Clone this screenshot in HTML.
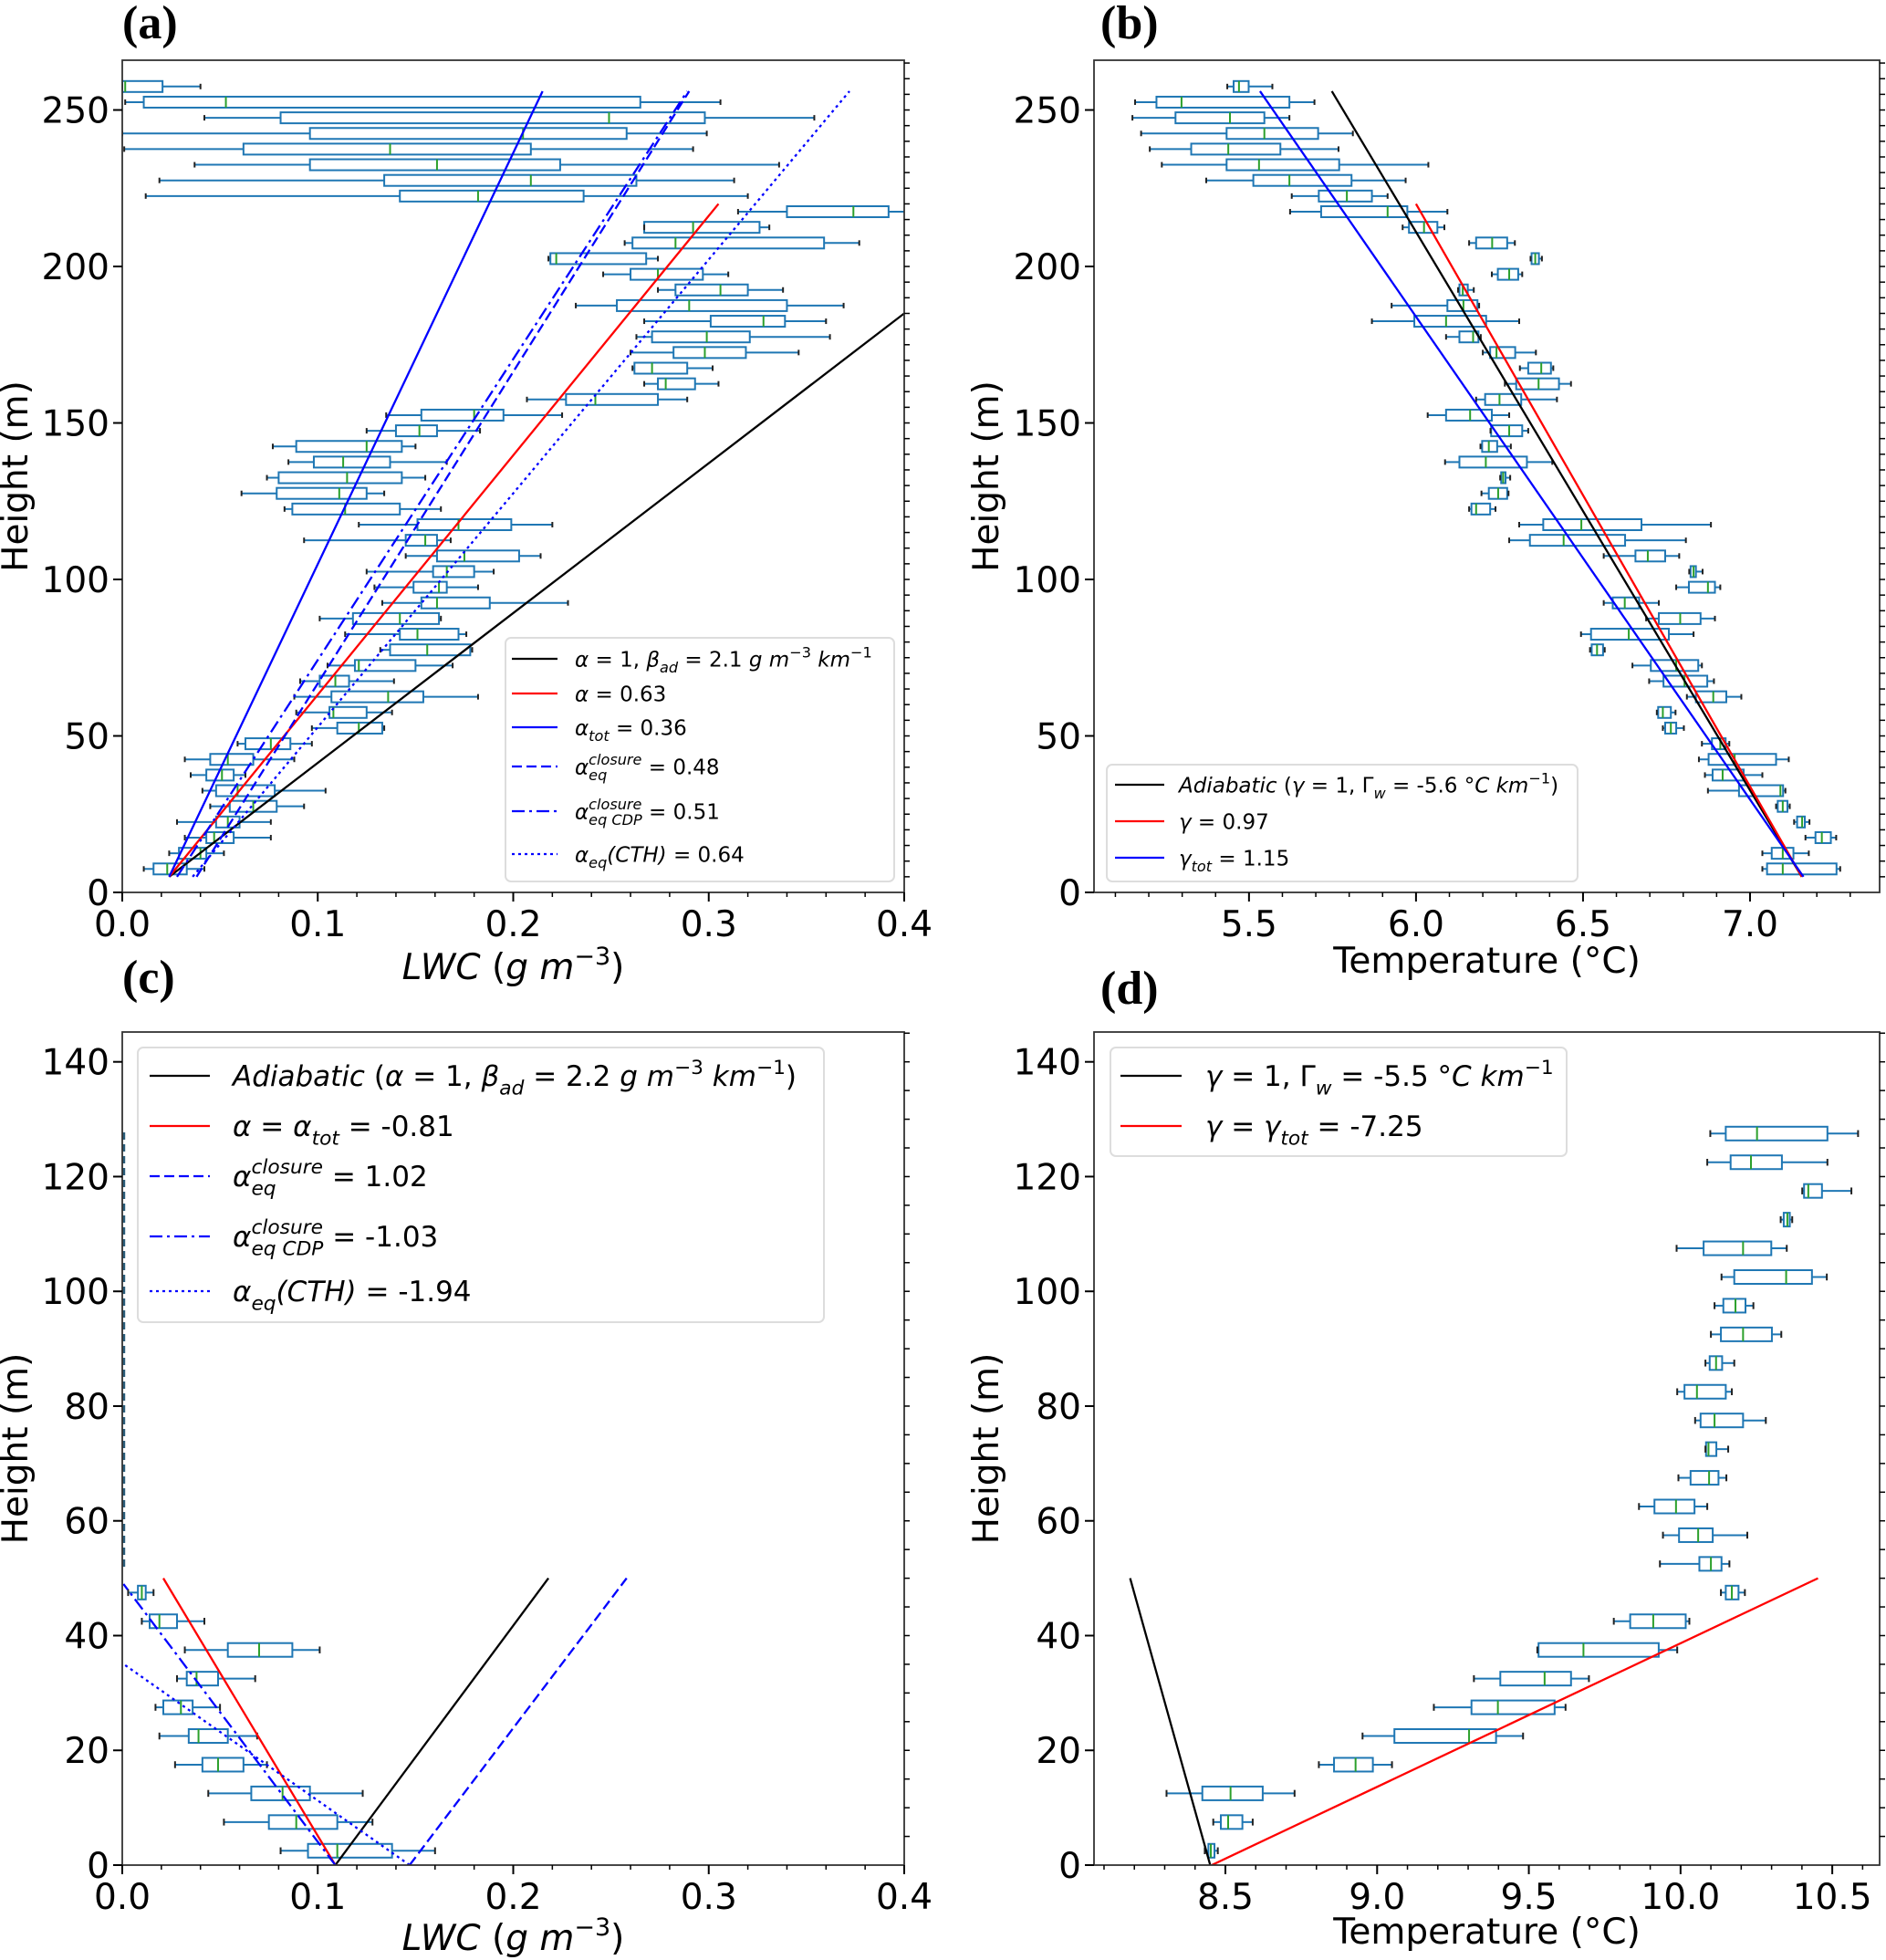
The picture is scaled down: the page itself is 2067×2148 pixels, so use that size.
<!DOCTYPE html>
<html><head><meta charset="utf-8"><style>
html,body{margin:0;padding:0;background:#fff;}
svg{display:block;font-family:"DejaVu Sans","Liberation Sans",sans-serif;}
text{white-space:pre;}
</style></head><body>
<svg id="fig" width="2067" height="2148" viewBox="0 0 2067 2148" xmlns="http://www.w3.org/2000/svg" xml:space="preserve"></svg>
<script>
// ---------- DATA ----------
const aHeights=[257.5,252.5,247.5,242.5,237.5,232.5,227.5,222.5,217.5,212.5,207.5,202.5,197.5,192.5,187.5,182.5,177.5,172.5,167.5,162.5,157.5,152.5,147.5,142.5,137.5,132.5,127.5,122.5,117.5,112.5,107.5,102.5,97.5,92.5,87.5,82.5,77.5,72.5,67.5,62.5,57.5,52.5,47.5,42.5,37.5,32.5,27.5,22.5,17.5,12.5,7.5];
const aStats=[[0,0,0.0015,0.0206,0.040],[0.0015,0.011,0.053,0.265,0.306],[0.042,0.081,0.249,0.298,0.354],[0,0.096,0.205,0.258,0.299],[0.001,0.062,0.137,0.209,0.292],[0.037,0.096,0.161,0.224,0.336],[0.019,0.134,0.209,0.263,0.313],[0.012,0.142,0.182,0.236,0.320],[0.315,0.340,0.374,0.392,0.403],[0.267,0.267,0.292,0.326,0.331],[0.257,0.261,0.283,0.359,0.377],[0.218,0.219,0.222,0.268,0.274],[0.246,0.260,0.274,0.297,0.310],[0.274,0.283,0.306,0.320,0.338],[0.232,0.253,0.290,0.340,0.369],[0.267,0.301,0.328,0.339,0.360],[0.263,0.271,0.299,0.321,0.362],[0.260,0.282,0.298,0.319,0.346],[0.261,0.262,0.271,0.289,0.302],[0.267,0.274,0.278,0.293,0.305],[0.207,0.227,0.242,0.274,0.289],[0.135,0.153,0.180,0.195,0.225],[0.125,0.140,0.152,0.161,0.183],[0.077,0.089,0.125,0.143,0.150],[0.085,0.098,0.113,0.137,0.166],[0.074,0.080,0.115,0.143,0.155],[0.061,0.079,0.111,0.125,0.134],[0.083,0.087,0.114,0.142,0.163],[0.121,0.151,0.172,0.199,0.220],[0.093,0.145,0.155,0.161,0.168],[0.145,0.161,0.175,0.203,0.214],[0.125,0.159,0.166,0.180,0.190],[0.129,0.149,0.162,0.166,0.182],[0.133,0.153,0.161,0.188,0.228],[0.101,0.118,0.142,0.162,0.163],[0.114,0.142,0.151,0.172,0.176],[0.132,0.137,0.156,0.178,0.179],[0.105,0.119,0.121,0.150,0.169],[0.091,0.101,0.109,0.116,0.139],[0.088,0.107,0.136,0.154,0.182],[0.089,0.106,0.108,0.125,0.138],[0.097,0.110,0.121,0.133,0.134],[0.059,0.063,0.076,0.086,0.097],[0.032,0.045,0.054,0.067,0.088],[0.035,0.043,0.051,0.057,0.063],[0.041,0.048,0.059,0.078,0.104],[0.045,0.055,0.067,0.079,0.093],[0.028,0.048,0.054,0.060,0.076],[0.032,0.043,0.047,0.057,0.076],[0.024,0.029,0.040,0.043,0.052],[0.011,0.016,0.023,0.033,0.042]];
const bStats=[[5.435,5.454,5.470,5.499,5.570],[5.159,5.223,5.298,5.621,5.696],[5.151,5.280,5.443,5.546,5.621],[5.177,5.433,5.546,5.707,5.811],[5.203,5.327,5.438,5.594,5.768],[5.239,5.433,5.530,5.770,6.037],[5.372,5.513,5.621,5.807,5.969],[5.628,5.709,5.793,5.868,5.915],[5.623,5.716,5.915,5.974,6.094],[5.960,5.979,6.024,6.064,6.085],[6.159,6.180,6.228,6.273,6.296],[6.343,6.346,6.357,6.368,6.377],[6.227,6.245,6.279,6.306,6.318],[6.126,6.130,6.140,6.155,6.173],[5.927,6.094,6.142,6.184,6.189],[5.868,5.995,6.090,6.210,6.309],[6.090,6.130,6.171,6.187,6.194],[6.200,6.222,6.241,6.297,6.359],[6.311,6.336,6.375,6.404,6.411],[6.266,6.300,6.367,6.428,6.464],[6.180,6.207,6.250,6.315,6.422],[6.035,6.090,6.162,6.227,6.279],[6.223,6.225,6.279,6.318,6.336],[6.193,6.198,6.218,6.243,6.284],[6.087,6.130,6.209,6.332,6.408],[6.252,6.255,6.261,6.268,6.282],[6.196,6.218,6.246,6.273,6.277],[6.159,6.166,6.180,6.222,6.238],[6.309,6.381,6.495,6.675,6.883],[6.279,6.341,6.442,6.626,6.808],[6.562,6.657,6.694,6.746,6.788],[6.818,6.822,6.831,6.838,6.858],[6.779,6.817,6.874,6.895,6.911],[6.562,6.589,6.625,6.668,6.727],[6.689,6.727,6.791,6.852,6.895],[6.494,6.524,6.637,6.757,6.831],[6.521,6.526,6.542,6.560,6.565],[6.648,6.703,6.779,6.845,6.856],[6.698,6.741,6.804,6.872,6.892],[6.811,6.838,6.890,6.929,6.974],[6.721,6.725,6.739,6.763,6.777],[6.739,6.746,6.763,6.779,6.802],[6.856,6.886,6.911,6.927,6.938],[6.847,6.876,6.954,7.078,7.116],[6.865,6.888,6.918,6.981,7.037],[6.874,6.967,7.091,7.099,7.106],[7.078,7.083,7.098,7.112,7.119],[7.132,7.141,7.156,7.164,7.178],[7.166,7.196,7.215,7.242,7.258],[7.037,7.065,7.098,7.130,7.176],[7.037,7.051,7.098,7.259,7.270]];
const cHeights=[47.5,42.5,37.5,32.5,27.5,22.5,17.5,12.5,7.5,2.5];
const cStats=[[0.003,0.008,0.010,0.012,0.016],[0.010,0.014,0.019,0.028,0.042],[0.032,0.054,0.070,0.087,0.101],[0.028,0.033,0.038,0.049,0.068],[0.017,0.021,0.030,0.036,0.050],[0.019,0.034,0.039,0.054,0.069],[0.027,0.041,0.049,0.062,0.074],[0.044,0.066,0.082,0.096,0.123],[0.052,0.075,0.089,0.110,0.128],[0.081,0.095,0.110,0.138,0.160]];
const dHeights=[127.5,122.5,117.5,112.5,107.5,102.5,97.5,92.5,87.5,82.5,77.5,72.5,67.5,62.5,57.5,52.5,47.5,42.5,37.5,32.5,27.5,22.5,17.5,12.5,7.5,2.5];
const dStats=[[10.098,10.149,10.252,10.484,10.585],[10.088,10.165,10.232,10.334,10.484],[10.401,10.407,10.421,10.466,10.563],[10.330,10.340,10.352,10.360,10.368],[9.987,10.076,10.206,10.299,10.350],[10.135,10.177,10.348,10.433,10.482],[10.112,10.141,10.181,10.214,10.240],[10.100,10.133,10.206,10.301,10.332],[10.082,10.096,10.117,10.137,10.177],[9.989,10.013,10.054,10.149,10.169],[10.048,10.066,10.112,10.206,10.281],[10.082,10.084,10.092,10.118,10.157],[9.993,10.033,10.094,10.125,10.151],[9.863,9.914,9.985,10.046,10.088],[9.942,9.995,10.058,10.106,10.220],[9.932,10.062,10.100,10.135,10.161],[10.133,10.149,10.169,10.191,10.212],[9.780,9.834,9.910,10.017,10.029],[9.528,9.532,9.680,9.928,9.989],[9.319,9.406,9.552,9.639,9.698],[9.187,9.311,9.398,9.585,9.621],[8.952,9.057,9.303,9.392,9.481],[8.808,8.858,8.929,8.986,9.049],[8.306,8.424,8.517,8.623,8.728],[8.460,8.485,8.509,8.556,8.590],[8.432,8.444,8.452,8.464,8.475]];
const aLines=[[0.024,5,0.4,185],[0.024,5,0.305,220],[0.024,5,0.215,256],[0.038,5,0.290,256],[0.028,5,0.289,256],[0.036,5,0.372,256]];
const bLines=[[7.155,5,5.748,256],[7.155,5,6.0,220],[7.16,5,5.533,256]];
const cLines=[[0.109,0,0.218,50],[0.109,0,0.021,50],[0.147,0,0.258,50],[0.109,0,0.0006,49],[0.147,0,0.0,35.2]];
const dLines=[[8.45,0,8.186,50],[8.455,0,10.453,50]];
const aXTicks=["0.0","0.1","0.2","0.3","0.4"], aXVals=[0,0.1,0.2,0.3,0.4];
const abYVals=[0,50,100,150,200,250];
const bXTicks=["5.5","6.0","6.5","7.0"], bXVals=[5.5,6.0,6.5,7.0];
const cdYVals=[0,20,40,60,80,100,120,140];
const dXTicks=["8.5","9.0","9.5","10.0","10.5"], dXVals=[8.5,9.0,9.5,10.0,10.5];

// ---------- DRAW ----------
const NS="http://www.w3.org/2000/svg";
const svg=document.getElementById('fig');
function mk(tag,attrs,parent){const e=document.createElementNS(NS,tag);for(const k in attrs)e.setAttribute(k,attrs[k]);(parent||svg).appendChild(e);return e;}
const styles=[{s:'#000',d:''},{s:'#ff0000',d:''},{s:'#0000ff',d:''},{s:'#0000ff',d:'11,5'},{s:'#0000ff',d:'14,5,3,5'},{s:'#0000ff',d:'3,4'}];

function rich(parent,x,y,fs,segs){
  let cx=x;
  const put=(t,xx,yy,size,ital)=>{const e=mk('text',{x:xx,y:yy,'font-size':size,'font-style':ital?'italic':'normal',fill:'#000'},parent);e.textContent=t;return e.getComputedTextLength();};
  segs.forEach(([t,k])=>{
    const s=fs*0.7;
    if(k==='n') cx+=put(t,cx,y,fs,false);
    else if(k==='i') cx+=put(t,cx,y,fs,true);
    else if(k==='sub') cx+=put(t,cx,y+fs*0.3,s,true);
    else if(k==='sup') cx+=put(t,cx,y-fs*0.42,s,false);
    else if(k==='ss'){const [a,b]=t.split('|');const w1=put(a,cx,y+fs*0.3,s,true);const w2=put(b,cx,y-fs*0.45,s,true);cx+=Math.max(w1,w2);}
  });
}

function panel(id,cfg){
  const g=mk('g',{});
  
  
  const X=v=>cfg.px0+(v-cfg.xmin)/(cfg.xmax-cfg.xmin)*(cfg.px1-cfg.px0);
  const Y=v=>cfg.py0-(v-cfg.ymin)/(cfg.ymax-cfg.ymin)*(cfg.py0-cfg.py1);
  const cp=mk('clipPath',{id:'clip-'+id},g);
  mk('rect',{x:cfg.px0,y:cfg.py1,width:cfg.px1-cfg.px0,height:cfg.py0-cfg.py1},cp);
  const plot=mk('g',{'clip-path':'url(#clip-'+id+')'},g);
  
  
  cfg.stats.forEach((s,i)=>{
    const h=cfg.heights[i], yc=Y(h), hh=cfg.bh/2;
    const bg=mk('g',{},plot);
    
    
    mk('line',{x1:X(s[0]),x2:X(s[1]),y1:yc,y2:yc,stroke:'#1f77b4','stroke-width':2},bg);
    mk('line',{x1:X(s[3]),x2:X(s[4]),y1:yc,y2:yc,stroke:'#1f77b4','stroke-width':2},bg);
    mk('rect',{x:X(s[1]),y:yc-hh,width:Math.max(1,X(s[3])-X(s[1])),height:cfg.bh,fill:'none',stroke:'#1f77b4','stroke-width':2},bg);
    mk('line',{x1:X(s[2]),x2:X(s[2]),y1:yc-hh,y2:yc+hh,stroke:'#2ca02c','stroke-width':2},bg);
    mk('line',{x1:X(s[0]),x2:X(s[0]),y1:yc-hh/2,y2:yc+hh/2,stroke:'#222','stroke-width':2},bg);
    mk('line',{x1:X(s[4]),x2:X(s[4]),y1:yc-hh/2,y2:yc+hh/2,stroke:'#222','stroke-width':2},bg);
  });
  if(cfg.extra) cfg.extra(plot,X,Y);
  cfg.lines.forEach((l,i)=>{
    const st=styles[cfg.lineStyles[i]];
    const ln=mk('line',{x1:X(l[0]),y1:Y(l[1]),x2:X(l[2]),y2:Y(l[3]),stroke:st.s,'stroke-width':2.3,'stroke-dasharray':st.d},plot);
    
    
  });
  const fr=mk('rect',{x:cfg.px0,y:cfg.py1,width:cfg.px1-cfg.px0,height:cfg.py0-cfg.py1,fill:'none',stroke:'#333','stroke-width':1.8},g);
  
  
  cfg.xVals.forEach((v,i)=>{
    mk('line',{x1:X(v),x2:X(v),y1:cfg.py0,y2:cfg.py0+10,stroke:'#000','stroke-width':2},g);
    const t=mk('text',{x:X(v),y:cfg.py0+48,'font-size':39,'text-anchor':'middle',fill:'#000'},g);
    t.textContent=cfg.xTicks[i];
    
    
  });
  for(let v=cfg.xMinorStart;v<=cfg.xmax+1e-9;v+=cfg.xMinor){
    if(v<cfg.xmin) continue;
    mk('line',{x1:X(v),x2:X(v),y1:cfg.py0,y2:cfg.py0+5,stroke:'#000','stroke-width':1.5},g);
  }
  cfg.yVals.forEach(v=>{
    mk('line',{x1:cfg.px0-10,x2:cfg.px0,y1:Y(v),y2:Y(v),stroke:'#000','stroke-width':2},g);
    const t=mk('text',{x:cfg.px0-14,y:Y(v)+14,'font-size':39,'text-anchor':'end',fill:'#000'},g);
    t.textContent=String(v);
    
    
  });
  for(let v=cfg.ymin+cfg.yMinor;v<=cfg.ymax;v+=cfg.yMinor){
    mk('line',{x1:cfg.px1,x2:cfg.px1+6,y1:Y(v),y2:Y(v),stroke:'#000','stroke-width':1.5},g);
  }
  const yl=mk('text',{x:0,y:0,'font-size':39,'text-anchor':'middle',transform:`translate(${cfg.ylx},${(cfg.py0+cfg.py1)/2}) rotate(-90)`},g);
  yl.textContent='Height (m)';
  
  
  const xl=mk('text',{x:(cfg.px0+cfg.px1)/2,y:cfg.xly,'font-size':39,'text-anchor':'middle'},g);
  xl.innerHTML=cfg.xlabel;
  
  
  const pl=mk('text',{x:cfg.labx,y:cfg.laby,'font-size':52,'font-weight':'bold','font-family':'Liberation Serif, serif'},g);
  pl.textContent=cfg.label;
  
  
  const L=cfg.legend;
  const lg=mk('g',{},g);
  
  
  mk('rect',{x:L.x,y:L.y,width:L.w,height:L.h,rx:6,fill:'#fff','fill-opacity':0.85,stroke:'#ddd','stroke-width':2},lg);
  L.items.forEach((it,i)=>{
    const st=styles[it[0]];
    const ent=mk('g',{},lg);
    
    
    mk('line',{x1:L.lx0,x2:L.lx1,y1:L.ys[i],y2:L.ys[i],stroke:st.s,'stroke-width':2.3,'stroke-dasharray':st.d},ent);
    rich(ent,L.tx,L.ys[i]+L.fs*0.36,L.fs,it[1]);
  });
}
const lwcLabel=`<tspan font-style="italic">LWC</tspan> (<tspan font-style="italic">g m</tspan><tspan font-size="27" dy="-16">−3</tspan><tspan dy="16">)</tspan>`;

panel('a',{px0:134,px1:991,py0:978,py1:66,xmin:0,xmax:0.4,ymin:0,ymax:265.9,heights:aHeights,stats:aStats,bh:12,
  lines:aLines,lineStyles:[0,1,2,3,4,5],xVals:aXVals,xTicks:aXTicks,xMinor:0.02,xMinorStart:0,yVals:abYVals,yMinor:5,
  ylx:30,xly:1073,xlabel:lwcLabel,label:'(a)',labx:134,laby:42,
  legend:{x:554,y:699,w:426,h:267,lx0:561,lx1:611,tx:630,fs:23,ys:[722,760,797,840,889,936],items:[
   [0,[['α','i'],[' = 1, ','n'],['β','i'],['ad','sub'],[' = 2.1 ','n'],['g m','i'],['−3','sup'],[' km','i'],['−1','sup']]],
   [1,[['α','i'],[' = 0.63','n']]],
   [2,[['α','i'],['tot','sub'],[' = 0.36','n']]],
   [3,[['α','i'],['eq|closure','ss'],[' = 0.48','n']]],
   [4,[['α','i'],['eq CDP|closure','ss'],[' = 0.51','n']]],
   [5,[['α','i'],['eq','sub'],['(CTH)','i'],[' = 0.64','n']]]]}});

panel('b',{px0:1199,px1:2060,py0:978,py1:66,xmin:5.036,xmax:7.388,ymin:0,ymax:265.9,heights:aHeights,stats:bStats,bh:12,
  lines:bLines,lineStyles:[0,1,2],xVals:bXVals,xTicks:bXTicks,xMinor:0.1,xMinorStart:5.1,yVals:abYVals,yMinor:5,
  ylx:1094,xly:1066,xlabel:'Temperature (°C)',label:'(b)',labx:1206,laby:42,
  legend:{x:1213,y:838,w:516,h:128,lx0:1222,lx1:1276,tx:1292,fs:23,ys:[860,900,940],items:[
   [0,[['Adiabatic','i'],[' (','n'],['γ','i'],[' = 1, Γ','n'],['w','sub'],[' = -5.6 ','n'],['°C km','i'],['−1','sup'],[')','n']]],
   [1,[['γ','i'],[' = 0.97','n']]],
   [2,[['γ','i'],['tot','sub'],[' = 1.15','n']]]]}});

panel('c',{px0:134,px1:991,py0:2044,py1:1131,xmin:0,xmax:0.4,ymin:0,ymax:145.2,heights:cHeights,stats:cStats,bh:15,
  lines:cLines,lineStyles:[0,1,3,4,5],xVals:aXVals,xTicks:aXTicks,xMinor:0.02,xMinorStart:0,yVals:cdYVals,yMinor:5,
  ylx:30,xly:2137,xlabel:lwcLabel,label:'(c)',labx:134,laby:1088,
  extra:(p,X,Y)=>{const e=mk('line',{x1:X(0.0008),x2:X(0.0008),y1:Y(52),y2:Y(128),stroke:'#2a5d7a','stroke-width':3,'stroke-dasharray':'8,5'},p);
    },
  legend:{x:151,y:1148,w:752,h:301,lx0:164,lx1:230,tx:255,fs:31,ys:[1179,1234,1289,1355,1415],items:[
   [0,[['Adiabatic','i'],[' (','n'],['α','i'],[' = 1, ','n'],['β','i'],['ad','sub'],[' = 2.2 ','n'],['g m','i'],['−3','sup'],[' km','i'],['−1','sup'],[')','n']]],
   [1,[['α','i'],[' = ','n'],['α','i'],['tot','sub'],[' = -0.81','n']]],
   [3,[['α','i'],['eq|closure','ss'],[' = 1.02','n']]],
   [4,[['α','i'],['eq CDP|closure','ss'],[' = -1.03','n']]],
   [5,[['α','i'],['eq','sub'],['(CTH)','i'],[' = -1.94','n']]]]}});

panel('d',{px0:1199,px1:2060,py0:2044,py1:1131,xmin:8.067,xmax:10.656,ymin:0,ymax:145.2,heights:dHeights,stats:dStats,bh:15,
  lines:dLines,lineStyles:[0,1],xVals:dXVals,xTicks:dXTicks,xMinor:0.1,xMinorStart:8.1,yVals:cdYVals,yMinor:5,
  ylx:1094,xly:2130,xlabel:'Temperature (°C)',label:'(d)',labx:1206,laby:1100,
  legend:{x:1217,y:1148,w:500,h:119,lx0:1228,lx1:1295,tx:1321,fs:31,ys:[1179,1234],items:[
   [0,[['γ','i'],[' = 1, Γ','n'],['w','sub'],[' = -5.5 ','n'],['°C km','i'],['−1','sup']]],
   [1,[['γ','i'],[' = ','n'],['γ','i'],['tot','sub'],[' = -7.25','n']]]]}});
</script>
</body></html>
